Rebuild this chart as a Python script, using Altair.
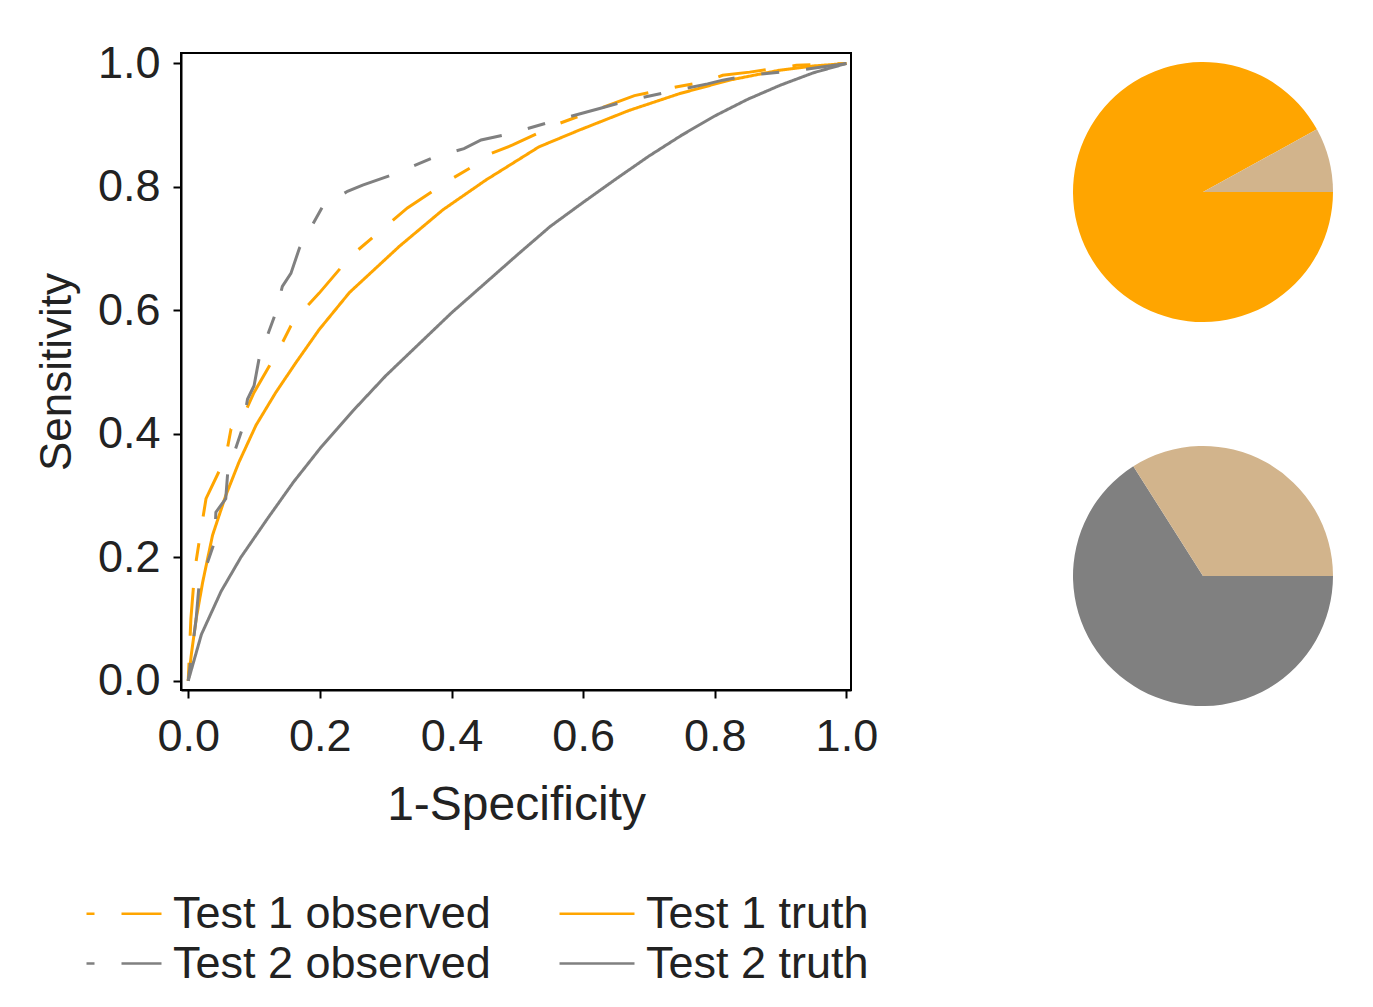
import math
import pandas as pd
import altair as alt

# ---------------- data ----------------
# legend fills columns first: column 1 = observed, column 2 = truth
series_names = ["Test 1 observed", "Test 2 observed", "Test 1 truth", "Test 2 truth"]
series_colors = ["#FFA500", "#808080", "#FFA500", "#808080"]

t1_obs_fpr = [0.0, 0.004, 0.010, 0.018, 0.027, 0.057, 0.065, 0.083, 0.100, 0.138, 0.156, 0.171,
              0.199, 0.247, 0.280, 0.303, 0.333, 0.397, 0.432, 0.455, 0.493, 0.564, 0.620, 0.678,
              0.741, 0.784, 0.812, 0.853, 0.924, 1.0]
t1_obs_tpr = [0.0, 0.10, 0.18, 0.235, 0.295, 0.362, 0.408, 0.427, 0.467, 0.537, 0.575, 0.596,
              0.628, 0.688, 0.718, 0.739, 0.766, 0.811, 0.833, 0.852, 0.868, 0.903, 0.925, 0.948,
              0.962, 0.970, 0.981, 0.986, 0.997, 1.0]

t1_true_fpr = [0.0, 0.005, 0.012, 0.022, 0.037, 0.057, 0.077, 0.103, 0.133, 0.164, 0.199, 0.245,
               0.321, 0.387, 0.452, 0.533, 0.594, 0.670, 0.746, 0.822, 0.898, 0.950, 1.0]
t1_true_tpr = [0.0, 0.045, 0.10, 0.16, 0.236, 0.300, 0.354, 0.414, 0.467, 0.516, 0.569, 0.629,
               0.704, 0.763, 0.811, 0.865, 0.892, 0.924, 0.951, 0.973, 0.989, 0.996, 1.0]

t2_obs_fpr = [0.0, 0.006, 0.012, 0.016, 0.040, 0.042, 0.057, 0.060, 0.083, 0.090, 0.100, 0.108,
              0.133, 0.143, 0.156, 0.169, 0.204, 0.242, 0.265, 0.308, 0.376, 0.419, 0.445, 0.488,
              0.559, 0.604, 0.625, 0.668, 0.739, 0.789, 0.812, 0.853, 0.929, 1.0]
t2_obs_tpr = [0.0, 0.05, 0.10, 0.15, 0.225, 0.273, 0.295, 0.338, 0.411, 0.456, 0.478, 0.524,
              0.596, 0.639, 0.660, 0.701, 0.768, 0.793, 0.803, 0.819, 0.849, 0.862, 0.876, 0.886,
              0.908, 0.921, 0.927, 0.940, 0.956, 0.967, 0.973, 0.981, 0.989, 1.0]

t2_true_fpr = [0.0, 0.02, 0.05, 0.08, 0.12, 0.16, 0.20, 0.25, 0.30, 0.35, 0.40, 0.45, 0.50,
               0.55, 0.60, 0.65, 0.70, 0.75, 0.80, 0.85, 0.90, 0.95, 1.0]
t2_true_tpr = [0.0, 0.075, 0.145, 0.200, 0.262, 0.322, 0.376, 0.437, 0.494, 0.545, 0.596, 0.643,
               0.690, 0.736, 0.775, 0.813, 0.850, 0.884, 0.915, 0.942, 0.965, 0.985, 1.0]

x_ticks = [0.0, 0.2, 0.4, 0.6, 0.8, 1.0]
y_ticks = [0.0, 0.2, 0.4, 0.6, 0.8, 1.0]

pie1_parts = ["Test 1", "Other"]
pie1_shares = [92, 8]
pie1_colors = ["#FFA500", "#D2B48C"]

pie2_parts = ["Test 2", "Other"]
pie2_shares = [66, 34]
pie2_colors = ["#808080", "#D2B48C"]

# ---------------- frames ----------------
rows = []
for name, xs, ys in [
    ("Test 1 observed", t1_obs_fpr, t1_obs_tpr),
    ("Test 1 truth", t1_true_fpr, t1_true_tpr),
    ("Test 2 observed", t2_obs_fpr, t2_obs_tpr),
    ("Test 2 truth", t2_true_fpr, t2_true_tpr),
]:
    for i, (a, b) in enumerate(zip(xs, ys)):
        rows.append({"series": name, "fpr": a, "tpr": b, "idx": i})
df = pd.DataFrame(rows)

pie1_df = pd.DataFrame({"part": pie1_parts, "share": pie1_shares, "rank": list(range(len(pie1_parts)))})
pie2_df = pd.DataFrame({"part": pie2_parts, "share": pie2_shares, "rank": list(range(len(pie2_parts)))})

FONT = "Liberation Sans"
TXT = "#222222"
dash_obs = [18, 27, 48, 27]
dash_solid = [1, 0]

legend_kw = dict(
    title=None, orient="none", legendX=-83.5, legendY=834, columns=2, direction="vertical",
    columnPadding=63, rowPadding=0, symbolType="M-1.5,0H1.5", symbolSize=2500,
    symbolStrokeWidth=2.5, labelFontSize=45, labelFont=FONT, labelColor=TXT,
    labelOffset=22.5, symbolDashOffset=10, labelLimit=0,
)

lines = alt.Chart(df).mark_line(strokeWidth=3).encode(
    x=alt.X("fpr:Q",
            scale=alt.Scale(domain=[-0.011, 1.007], nice=False, zero=False),
            axis=alt.Axis(values=x_ticks, format=".1f", title="1-Specificity", grid=False,
                          labelPadding=16, titlePadding=22, titleFontSize=48)),
    y=alt.Y("tpr:Q",
            scale=alt.Scale(domain=[-0.015, 1.017], nice=False, zero=False),
            axis=alt.Axis(values=y_ticks, format=".1f", title="Sensitivity", grid=False,
                          labelPadding=13, titlePadding=18, titleFontSize=44)),
    color=alt.Color("series:N", scale=alt.Scale(domain=series_names, range=series_colors),
                    legend=alt.Legend(**legend_kw)),
    strokeDash=alt.StrokeDash("series:N",
                              scale=alt.Scale(domain=series_names,
                                              range=[dash_obs, dash_obs, dash_solid, dash_solid]),
                              legend=alt.Legend(**legend_kw)),
    order=alt.Order("idx:Q"),
)

theta_scale = alt.Scale(range=[math.pi / 2, math.pi / 2 + 2 * math.pi])

pie1 = alt.Chart(pie1_df).mark_arc(radius=130).encode(
    theta=alt.Theta("share:Q", stack=True, scale=theta_scale),
    color=alt.Color("part:N", scale=alt.Scale(domain=pie1_parts, range=pie1_colors), legend=None),
    order=alt.Order("rank:Q"),
    x=alt.value(1022),
    y=alt.value(139),
)

pie2 = alt.Chart(pie2_df).mark_arc(radius=130).encode(
    theta=alt.Theta("share:Q", stack=True, scale=theta_scale),
    color=alt.Color("part:N", scale=alt.Scale(domain=pie2_parts, range=pie2_colors), legend=None),
    order=alt.Order("rank:Q"),
    x=alt.value(1022),
    y=alt.value(523),
)

chart = alt.layer(lines, pie1, pie2).resolve_scale(
    color="independent", theta="independent", strokeDash="independent"
).properties(
    width=670,
    height=637,
    autosize=alt.AutoSizeParams(type="none"),
    padding={"left": 173, "top": 45, "right": 500, "bottom": 315},
    background="white",
).configure_view(
    stroke="black", strokeWidth=2
).configure_axis(
    labelFont=FONT, titleFont=FONT, labelFontSize=45, labelColor=TXT, titleColor=TXT,
    titleFontWeight="normal", domainColor="black", domainWidth=2, tickColor="black",
    tickWidth=2, tickSize=8,
)

chart.save("out.html", embed_options={"renderer": "svg", "actions": False})
